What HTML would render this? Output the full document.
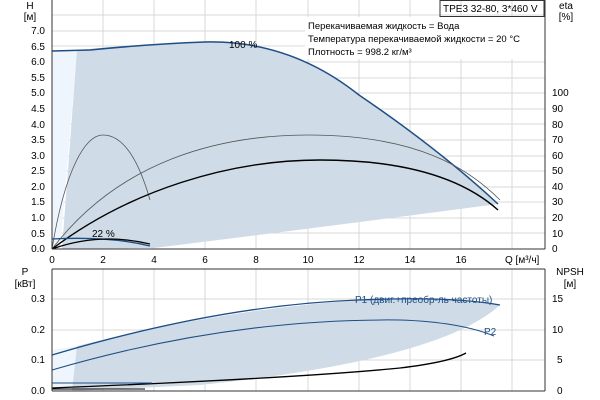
<!DOCTYPE html><html><head><meta charset="utf-8"><style>body{margin:0;background:#fff}svg{display:block;font-family:"Liberation Sans",sans-serif;font-size:10px}</style></head><body>
<svg width="600" height="400" xmlns="http://www.w3.org/2000/svg">
<g stroke="#d8d8d8" stroke-width="1">
<line x1="103" y1="0" x2="103" y2="249"/><line x1="154" y1="0" x2="154" y2="249"/><line x1="205" y1="0" x2="205" y2="249"/><line x1="256" y1="0" x2="256" y2="249"/><line x1="308" y1="0" x2="308" y2="249"/><line x1="359" y1="0" x2="359" y2="249"/><line x1="410" y1="0" x2="410" y2="249"/><line x1="461" y1="0" x2="461" y2="249"/><line x1="512" y1="0" x2="512" y2="249"/>
<line x1="52" y1="15" x2="545" y2="15"/><line x1="52" y1="31" x2="545" y2="31"/><line x1="52" y1="46" x2="545" y2="46"/><line x1="52" y1="62" x2="545" y2="62"/><line x1="52" y1="78" x2="545" y2="78"/><line x1="52" y1="93" x2="545" y2="93"/><line x1="52" y1="109" x2="545" y2="109"/><line x1="52" y1="124" x2="545" y2="124"/><line x1="52" y1="140" x2="545" y2="140"/><line x1="52" y1="156" x2="545" y2="156"/><line x1="52" y1="171" x2="545" y2="171"/><line x1="52" y1="187" x2="545" y2="187"/><line x1="52" y1="202" x2="545" y2="202"/><line x1="52" y1="218" x2="545" y2="218"/><line x1="52" y1="233" x2="545" y2="233"/>
<line x1="103" y1="269" x2="103" y2="391"/><line x1="154" y1="269" x2="154" y2="391"/><line x1="205" y1="269" x2="205" y2="391"/><line x1="256" y1="269" x2="256" y2="391"/><line x1="308" y1="269" x2="308" y2="391"/><line x1="359" y1="269" x2="359" y2="391"/><line x1="410" y1="269" x2="410" y2="391"/><line x1="461" y1="269" x2="461" y2="391"/><line x1="512" y1="269" x2="512" y2="391"/>
<line x1="52" y1="299" x2="545" y2="299"/><line x1="52" y1="330" x2="545" y2="330"/><line x1="52" y1="360" x2="545" y2="360"/>
</g>
<rect x="305" y="17" width="240" height="42" fill="#fff"/>
<path d="M52,51 L77,50 L60,249 L52,249Z" fill="#eef5fc"/>
<path d="M77,50 Q140,44 205,42 Q290,40 359,95 Q440,150 498,204 Q300,230 154,248 L62,249Z" fill="#cfdbe6"/>
<path d="M52,51 L90,50 Q150,44 205,42 Q290,40 359,95 Q440,150 498,204" fill="none" stroke="#1f4e86" stroke-width="1.5"/>
<path d="M52,249 C65,170 85,135 103,135 C125,135 140,165 150,200" fill="none" stroke="#555" stroke-width="0.8"/>
<path d="M52,249 C120,160 220,135 308,135 C420,135 470,170 500,200" fill="none" stroke="#555" stroke-width="0.8"/>
<path d="M52,249 C130,190 230,160 320,160 C420,160 470,185 498,210" fill="none" stroke="#000" stroke-width="1.4"/>
<path d="M52,239 Q110,236 150,246" fill="none" stroke="#1f4e86" stroke-width="1.3"/>
<path d="M52,249 Q100,232 150,244" fill="none" stroke="#000" stroke-width="1.3"/>
<text x="229" y="48">100 %</text><text x="92" y="237">22 %</text>
<path d="M52,350 L77,346 L72,391 L52,391Z" fill="#eef5fc"/>
<path d="M77,346 Q220,310 359,300 Q450,296 500,305 Q440,360 200,385 L72,391Z" fill="#cfdbe6"/>
<path d="M52,355 Q220,305 359,300 Q450,296 500,305" fill="none" stroke="#1f4e86" stroke-width="1.3"/>
<path d="M52,370 Q230,318 400,320 Q460,322 494,336" fill="none" stroke="#1f4e86" stroke-width="1"/>
<path d="M52,388 Q300,378 400,368 Q450,362 466,353" fill="none" stroke="#000" stroke-width="1.3"/>
<line x1="52" y1="383" x2="152" y2="383" stroke="#1f4e86" stroke-width="1"/>
<line x1="52" y1="389" x2="145" y2="389" stroke="#000" stroke-width="1"/>
<text x="355" y="303" fill="#1f4e86">P1 (двиг.+преобр-ль частоты)</text>
<text x="484" y="335" fill="#1f4e86">P2</text>
<g stroke="#333" stroke-width="1" fill="none">
<line x1="52" y1="0" x2="52" y2="249"/><line x1="52" y1="249" x2="545" y2="249"/><line x1="545" y1="0" x2="545" y2="249"/>
<line x1="52" y1="269" x2="52" y2="391"/><line x1="52" y1="391" x2="545" y2="391"/><line x1="545" y1="269" x2="545" y2="391"/><line x1="52" y1="269" x2="545" y2="269"/>
<rect x="440" y="0.5" width="104" height="16"/>
</g>
<text x="443" y="12">TPE3 32-80, 3*460 V</text>
<g font-size="9.5"><text x="308" y="29">Перекачиваемая жидкость = Вода</text><text x="308" y="42">Температура перекачиваемой жидкости = 20 °C</text><text x="308" y="55">Плотность = 998.2 кг/м³</text></g>
<g text-anchor="end">
<text x="45" y="252">0.0</text><text x="45" y="237">0.5</text><text x="45" y="221">1.0</text><text x="45" y="205">1.5</text><text x="45" y="190">2.0</text><text x="45" y="174">2.5</text><text x="45" y="159">3.0</text><text x="45" y="143">3.5</text><text x="45" y="128">4.0</text><text x="45" y="112">4.5</text><text x="45" y="96">5.0</text><text x="45" y="81">5.5</text><text x="45" y="65">6.0</text><text x="45" y="50">6.5</text><text x="45" y="34">7.0</text>
<text x="45" y="394">0.0</text><text x="45" y="363">0.1</text><text x="45" y="333">0.2</text><text x="45" y="302">0.3</text>
</g>
<g>
<text x="552" y="252">0</text><text x="552" y="237">10</text><text x="552" y="221">20</text><text x="552" y="205">30</text><text x="552" y="190">40</text><text x="552" y="174">50</text><text x="552" y="159">60</text><text x="552" y="143">70</text><text x="552" y="128">80</text><text x="552" y="112">90</text><text x="552" y="96">100</text>
<text x="557" y="394">0</text><text x="557" y="363">5</text><text x="552" y="333">10</text><text x="552" y="302">15</text>
</g>
<g text-anchor="middle">
<text x="52" y="263">0</text><text x="103" y="263">2</text><text x="154" y="263">4</text><text x="205" y="263">6</text><text x="256" y="263">8</text><text x="308" y="263">10</text><text x="359" y="263">12</text><text x="410" y="263">14</text><text x="461" y="263">16</text>
<text x="30" y="9">H</text><text x="30" y="20">[м]</text><text x="566" y="9">eta</text><text x="566" y="20">[%]</text>
<text x="25" y="275">P</text><text x="25" y="287">[кВт]</text><text x="570" y="275">NPSH</text><text x="570" y="287">[м]</text>
</g>
<text x="505" y="263">Q [м³/ч]</text>
</svg></body></html>
